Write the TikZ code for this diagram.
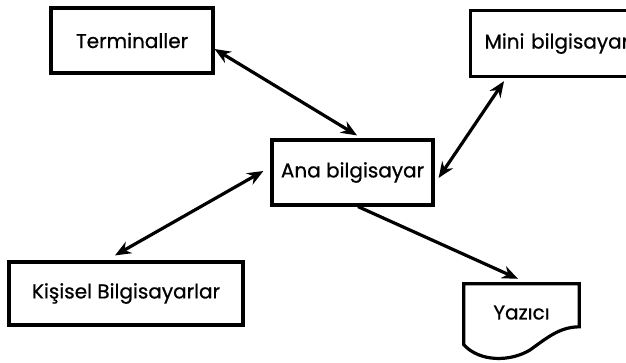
\documentclass[tikz,border=0pt]{standalone}
\usepackage{fontspec}
\setmainfont{Poppins}[FakeBold=0.7]
\usetikzlibrary{arrows.meta}
\begin{document}
\begin{tikzpicture}[x=1pt,y=-1pt,
  label/.style={font=\fontsize{20}{24}\selectfont},
  box/.style={draw,line width=3.2pt,inner sep=0pt,label},
  link/.style={line width=3.2pt,{Stealth[length=16pt,width=13pt]}-{Stealth[length=16pt,width=13pt]}},
  flow/.style={line width=3.2pt,-{Stealth[length=16pt,width=13pt]}}]
  \clip (0,0) rectangle (626,362);
  \useasboundingbox (0,0) rectangle (626,362);
  % computers
  \node[box,minimum width=162pt,minimum height=65pt] (term) at (132,40.5) {Terminaller};
  \node[box,minimum width=220pt,minimum height=66pt,anchor=north west,text width=210pt,align=left] (mini) at (469,9) {\hspace*{9pt}Mini bilgisayar};
  \node[box,minimum width=161pt,minimum height=65pt] (ana) at (352.5,172.5) {Ana bilgisayar};
  \node[box,minimum width=234pt,minimum height=63pt] (pc) at (126,293.5) {Kişisel Bilgisayarlar};
  % printer: document shape with a wavy lower edge
  \node[inner sep=0pt,minimum width=115pt,minimum height=61pt,label] (yazici) at (521.5,314.5) {\raisebox{4pt}{Yazıcı}};
  \draw[line width=3.2pt,line join=miter]
    (yazici.north west|-yazici.south) ++(0,-0.5) -- (yazici.north west) -- (yazici.north east)
    -- ++(0,43)
    .. controls (560,327) and (548,337) .. (530,350)
    .. controls (510,362) and (480,362) .. (464,345) -- cycle;
  % connections
  \draw[link] ([yshift=-8.5pt]term.east) -- ([xshift=4.5pt,yshift=3pt]ana.north);
  \draw[link] ([xshift=-1pt,yshift=-3pt]mini.south west -| 505,0) -- ([xshift=4pt,yshift=-5.5pt]ana.east);
  \draw[link] ([xshift=-7pt,yshift=1.5pt]ana.west) -- ([xshift=-11pt,yshift=5pt]pc.north);
  \draw[flow] ([xshift=5.5pt]ana.south) -- ([xshift=-3.5pt,yshift=5pt]yazici.north);
\end{tikzpicture}
\end{document}
